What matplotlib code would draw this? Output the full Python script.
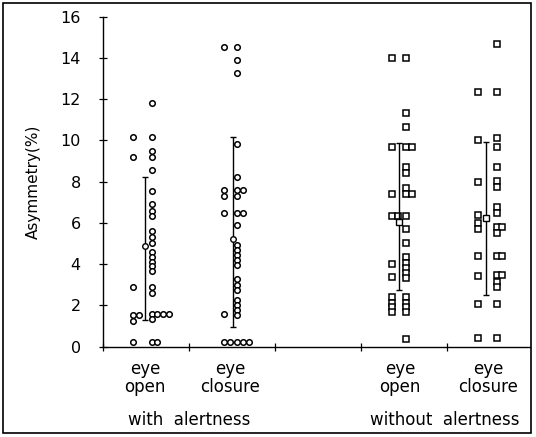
import numpy as np
import matplotlib.pyplot as plt
from matplotlib.patches import Rectangle

# asymmetry values (%), one list per column of marks
eo_alert_main = [11.8, 10.15, 9.5, 9.2, 8.55, 7.55, 6.9, 6.6, 6.35, 5.6, 5.3, 5.05,
                 4.6, 4.35, 4.1, 3.9, 3.65, 2.9, 2.6, 1.6, 1.6, 1.6, 1.6, 1.35, 0.25, 0.25]
eo_alert_side = [10.15, 9.2, 2.9, 1.55, 1.55, 1.25, 0.25]

ec_alert_main = [14.55, 13.9, 13.25, 9.85, 8.25, 7.6, 7.6, 7.3, 6.5, 6.5, 5.9, 4.93, 4.69,
                 4.45, 4.2, 3.95, 3.3, 3.0, 2.75, 2.26, 2.02, 1.78, 1.54, 0.22, 0.22, 0.22]
ec_alert_side = [14.55, 7.6, 7.3, 6.5, 1.6, 0.22, 0.22]

eo_noalert_main = [13.98, 11.32, 10.67, 9.67, 9.67, 8.73, 8.4, 7.68, 7.39, 7.39, 6.34, 5.69,
                   5.01, 4.33, 4.07, 3.83, 3.59, 3.35, 2.39, 2.13, 1.91, 1.67, 0.36]
eo_noalert_side = [13.98, 9.67, 7.39, 6.34, 6.34, 4.0, 3.36, 2.39, 2.13, 1.91, 1.67]

ec_noalert_main = [14.68, 12.36, 10.1, 9.7, 8.73, 8.05, 7.76, 6.76, 6.47, 5.79, 5.79, 5.5,
                   4.4, 4.4, 3.48, 3.48, 3.16, 2.91, 2.07, 0.41]
ec_noalert_side = [12.36, 10.02, 8.0, 6.4, 6.0, 5.7, 4.4, 3.43, 2.07, 0.41]

# mean and +/- SD bar
means = [4.9, 5.2, 6.06, 6.23]
sd_low = [1.3, 0.97, 2.75, 2.5]
sd_high = [8.24, 10.18, 9.86, 9.94]

cat_labels = ["eye\nopen", "eye\nclosure", "eye\nopen", "eye\nclosure"]
group_labels = ["with  alertness", "without  alertness"]

groups = [
    (eo_alert_main, eo_alert_side, "o"),
    (ec_alert_main, ec_alert_side, "o"),
    (eo_noalert_main, eo_noalert_side, "s"),
    (ec_noalert_main, ec_noalert_side, "s"),
]
# column x positions (axis units) for main column, side column and the SD bar
main_x = [0.566, 1.564, 3.531, 4.581]
side_x = [0.349, 1.407, 3.366, 4.364]
bar_x = [0.49, 1.51, 3.442, 4.462]
label_x = [0.49, 1.48, 3.46, 4.48]
step = 0.066


def dodge(vals, x0):
    # put equal values side by side, like the hand-drawn figure
    xs, seen = [], {}
    for v in vals:
        k = seen.get(v, 0)
        xs.append(x0 + k * step)
        seen[v] = k + 1
    return xs


fig = plt.figure(figsize=(5.36, 4.37), dpi=100)
ax = fig.add_axes([103 / 536, 90.3 / 437, 427 / 536, 330 / 437])

for i, (main, side, mk) in enumerate(groups):
    ms = 4.0 if mk == "o" else 4.3
    ax.plot(dodge(main, main_x[i]), main, mk, ls="none", ms=ms, mfc="white",
            mec="black", mew=1.1)
    ax.plot(dodge(side, side_x[i]), side, mk, ls="none", ms=ms, mfc="white",
            mec="black", mew=1.1)
    ax.errorbar([bar_x[i]], [means[i]],
                yerr=[[means[i] - sd_low[i]], [sd_high[i] - means[i]]],
                fmt=mk, ms=ms, mfc="white", mec="black", mew=1.0,
                ecolor="black", elinewidth=1.0, capsize=2.2, capthick=1.0)

ax.set_xlim(0, 4.97)
ax.set_ylim(0, 16)
ax.set_yticks(np.arange(0, 17, 2))
ax.set_xticks([0, 1, 2, 3, 4])
ax.set_xticklabels([])
ax.tick_params(axis="both", direction="inout", length=6, width=0.9, labelsize=11.5)
ax.tick_params(axis="y", pad=13)
ax.spines["top"].set_visible(False)
ax.spines["right"].set_visible(False)
ax.spines["left"].set_linewidth(1.0)
ax.spines["bottom"].set_linewidth(1.0)
ax.set_ylabel("Asymmetry(%)", fontsize=11, labelpad=14)

for i, lab in enumerate(cat_labels):
    ax.text(label_x[i], -0.65, lab, ha="center", va="top", fontsize=12,
            linespacing=1.0)
ax.text(1.0, -3.55, group_labels[0], ha="center", va="center", fontsize=12)
ax.text(3.98, -3.55, group_labels[1], ha="center", va="center", fontsize=12)

fig.patches.append(Rectangle((3 / 536, 4 / 437), 528 / 536, 430 / 437,
                             transform=fig.transFigure, fill=False,
                             edgecolor="black", linewidth=1.2))

fig.savefig("out.png", dpi=100)
